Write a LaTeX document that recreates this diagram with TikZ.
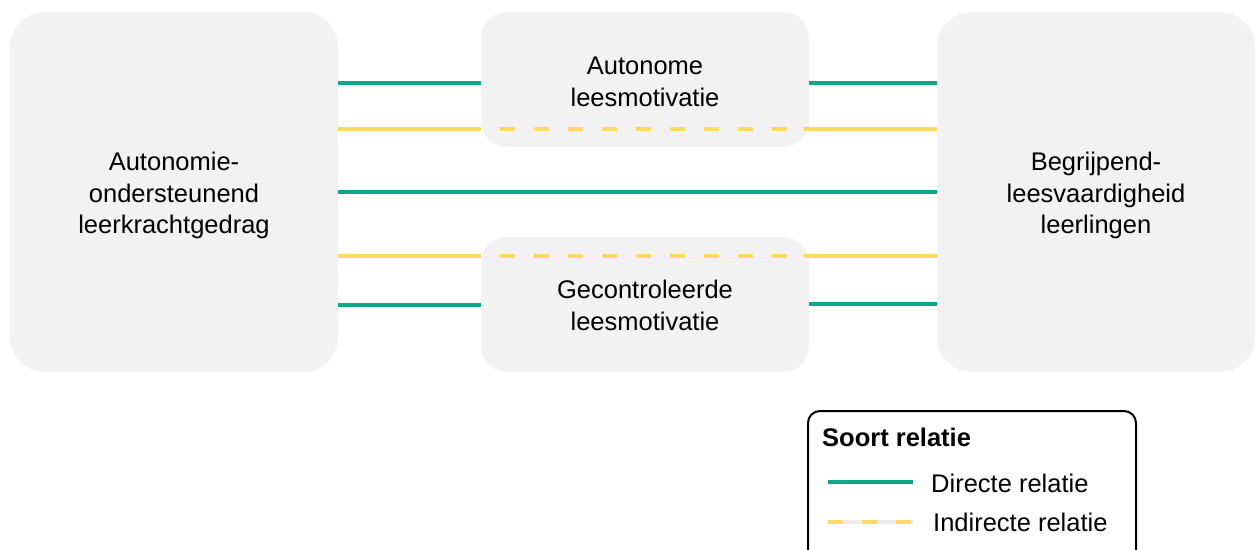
\documentclass[tikz,border=0pt]{standalone}
\usepackage{fontspec}
\setmainfont{Liberation Sans}
\definecolor{relgreen}{RGB}{14,168,134}
\definecolor{relyellow}{RGB}{255,217,102}
\definecolor{boxgray}{RGB}{242,242,242}
\definecolor{gapgray}{RGB}{236,236,236}
\definecolor{paleyellow}{RGB}{255,238,186}
\newcommand\upstrut[1]{\rule{0pt}{#1}}
\begin{document}
\begin{tikzpicture}[x=1pt,y=-1pt,
  bigbox/.style={fill=boxgray,draw=none,rounded corners=35pt,inner sep=0pt,outer sep=0pt,
    minimum height=360pt,align=center,font=\fontsize{25.5}{31.5}\selectfont},
  midbox/.style={fill=boxgray,draw=none,rounded corners=26pt,inner sep=0pt,outer sep=0pt,
    minimum width=328pt,minimum height=135pt,align=center,font=\fontsize{25.5}{31.5}\selectfont},
  direct/.style={draw=relgreen,line width=4pt},
  indirect/.style={draw=relyellow,line width=4pt},
  indash/.style={draw=relyellow,line width=4pt,dash pattern=on 15pt off 19pt},
  legtext/.style={anchor=west,inner sep=0pt,font=\fontsize{25.5}{30}\selectfont}]
\useasboundingbox (0,0) rectangle (1256,549);
\clip (0,0) rectangle (1256,549);
\fill[white] (0,0) rectangle (1256,549);
% boxes
\node[bigbox,minimum width=328pt] (L) at (174,192) {\upstrut{25.4pt}Autonomie-\\ondersteunend\\leerkrachtgedrag};
\node[bigbox,minimum width=318pt] (R) at (1096,192) {\upstrut{25.4pt}Begrijpend-\\leesvaardigheid\\leerlingen};
\node[midbox] (A) at (645,79.5) {\upstrut{21.8pt}Autonome\\leesmotivatie};
\node[midbox] (G) at (645,304.5) {\upstrut{19.8pt}Gecontroleerde\\leesmotivatie};
% level coordinates
\coordinate (y1) at (0,83);
\coordinate (y2) at (0,129);
\coordinate (y3) at (0,192);
\coordinate (y4) at (0,256);
\coordinate (y5) at (0,305);
\coordinate (y5r) at (0,304);
\coordinate (yp) at (0,257.5);
\coordinate (dA1) at (500,129);
\coordinate (dA2) at (790,129);
\coordinate (dG1) at (500,256);
\coordinate (dG2) at (790,256);
% direct relations
\draw[direct] (L.east |- y1) -- (A.west |- y1);
\draw[direct] (A.east |- y1) -- (R.west |- y1);
\draw[direct] (L.east |- y3) -- (R.west |- y3);
\draw[direct] (L.east |- y5) -- (G.west |- y5);
\draw[direct] (G.east |- y5r) -- (R.west |- y5r);
% indirect relations
\draw[indirect] (L.east |- y2) -- (A.west |- y2);
\draw[indash] (dA1) -- (dA2);
\draw[indirect] ([xshift=-5pt]A.east |- y2) -- (R.west |- y2);
\draw[indirect] (L.east |- y4) -- (G.west |- y4);
\draw[paleyellow,line width=0.8pt] (G.west |- yp) -- (G.east |- yp);
\draw[indash] (dG1) -- (dG2);
\draw[indirect] ([xshift=-5pt]G.east |- y4) -- (R.west |- y4);
% legend
\draw[black,line width=2pt,rounded corners=12pt] (808,411) rectangle (1136,580);
\node[legtext,font=\bfseries\fontsize{25.5}{30}\selectfont] (lt) at (822,437) {Soort relatie};
\coordinate (lg1) at (828,482);
\coordinate (lg2) at (913,482);
\coordinate (ly1) at (828,522);
\coordinate (ly2) at (913,522);
\draw[direct] (lg1) -- (lg2);
\draw[gapgray,line width=4pt] (ly1) -- (ly2);
\draw[indash] (ly1) -- (ly2);
\node[legtext] (ld) at (931,483) {Directe relatie};
\node[legtext] (li) at (933,522) {Indirecte relatie};
\end{tikzpicture}
\end{document}
